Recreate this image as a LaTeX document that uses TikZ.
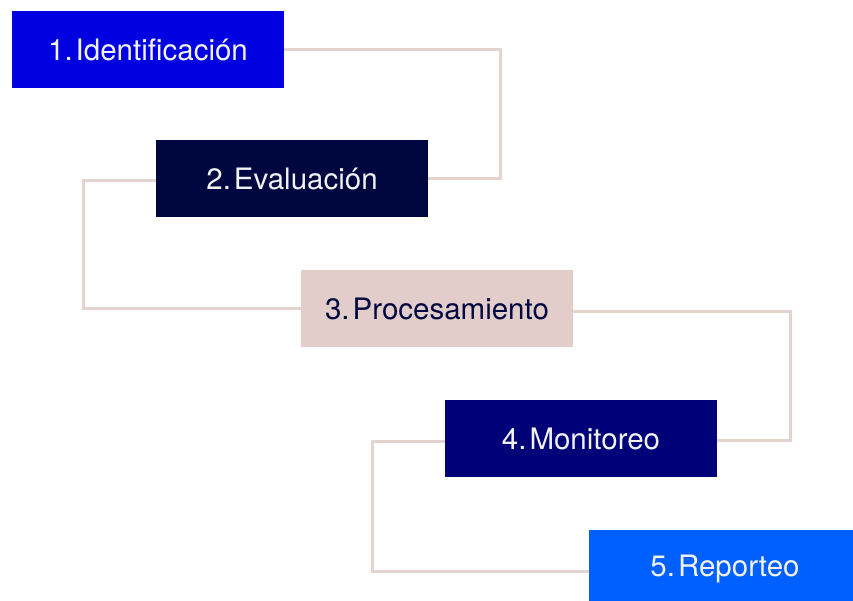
\documentclass[tikz,border=0pt]{standalone}
\usepackage{fontspec}
\setmainfont{TeX Gyre Heros}
\definecolor{cBlue}{HTML}{0000E0}
\definecolor{cNight}{HTML}{000640}
\definecolor{cPink}{HTML}{E2CDCA}
\definecolor{cNavy}{HTML}{000078}
\definecolor{cSky}{HTML}{0060FF}
\definecolor{cLine}{HTML}{E5D3D0}
\definecolor{cLight}{HTML}{F2F2F2}
\newcommand{\stp}[2]{#1.\hspace{0.1em}#2}
\begin{document}
\begin{tikzpicture}[x=1pt,y=-1pt,
  stepbox/.style={rectangle, inner sep=0pt, minimum width=272pt, minimum height=77pt,
    font=\fontsize{29.5}{33}\selectfont, text=cLight},
  link/.style={draw=cLine, line width=3pt}]
\useasboundingbox (0,0) rectangle (853,600);
\node[stepbox, fill=cBlue]  (s1) at (148,49.5)  {\stp{1}{Identificación}};
\node[stepbox, fill=cNight] (s2) at (292,178.5) {\stp{2}{Evaluación}};
\node[stepbox, fill=cPink, text=cNight] (s3) at (437,308.5) {\stp{3}{Procesamiento}};
\node[stepbox, fill=cNavy]  (s4) at (581,438.5) {\stp{4}{Monitoreo}};
\node[stepbox, fill=cSky] (s5) at (725,568.5) {\stp{5}{Reporteo}};
\coordinate (k1) at (500,0);
\coordinate (k2) at (83,0);
\coordinate (k3) at (790,0);
\coordinate (k4) at (372,0);
\draw[link] (s1.east) -- (s1.east -| k1) -- (s2.east -| k1) -- (s2.east);
\draw[link] ([yshift=-2pt]s2.west) -- ([yshift=-2pt]s2.west -| k2) -- (s3.west -| k2) -- (s3.west);
\draw[link] ([yshift=-3pt]s3.east) -- ([yshift=-3pt]s3.east -| k3) -- ([yshift=-2pt]s4.east -| k3) -- ([yshift=-2pt]s4.east);
\draw[link] ([yshift=-3pt]s4.west) -- ([yshift=-3pt]s4.west -| k4) -- ([yshift=-3pt]s5.west -| k4) -- ([yshift=-3pt]s5.west);
\end{tikzpicture}
\end{document}
